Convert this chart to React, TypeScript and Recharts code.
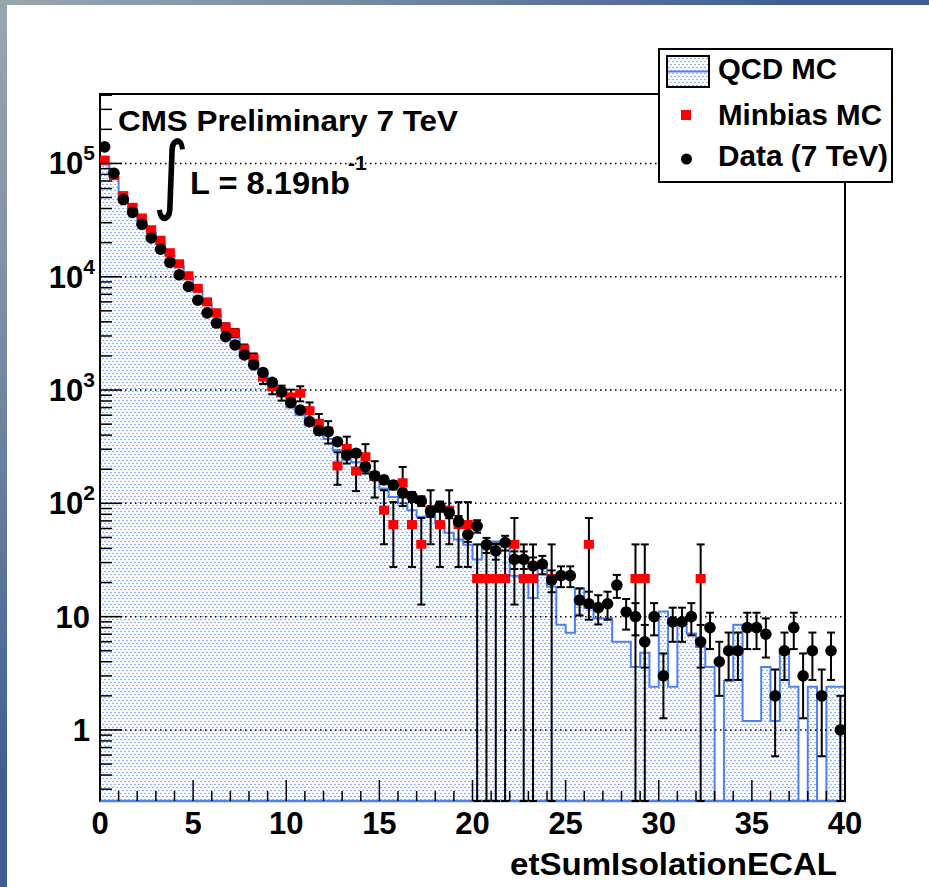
import React from 'react';
import { ComposedChart, Area, Scatter, ErrorBar, XAxis, YAxis, ReferenceLine, ReferenceArea } from 'recharts';

// ---------------- data (80 bins of width 0.5 from 0 to 40) ----------------
const binLow = 0;
const binWidth = 0.5;

const qcdMC: number[] = [
  98000, 76000, 50000, 39000, 31000, 24500, 19500, 15500, 12300, 9700,
  7500, 5800, 4600, 3500, 2900, 2200, 1800, 1400, 1100, 880,
  700, 600, 490, 420, 370, 295, 240, 230, 190, 160,
  135, 114, 100, 87, 76, 78, 67, 55, 48, 43,
  32, 43, 46, 46, 23, 22, 14.6, 27, 18.4, 8.5,
  7.2, 17.8, 11.9, 9.7, 9.7, 6.0, 6.0, 3.6, 4.8, 2.4,
  11.1, 2.4, 8.5, 7.1, 5.4, 3.6, 0, 2.7, 8.5, 1.2,
  1.2, 3.6, 1.2, 5.1, 2.4, 0, 2.4, 0, 2.4, 2.4,
];

const minbiasMC: number[] = [
  107000, 78000, 52000, 41000, 33000, 26000, 21000, 16300, 13000, 10200,
  7900, 6000, 4800, 3600, 3200, 2300, 1900, 1300, 1070, 950,
  870, 937, 658, 509, 434, 214, 306, 193, 258, 174,
  87, 65, 152, 65, 43.5, 87, 65, 87, 65, 65,
  21.7, 21.7, 21.7, 21.7, 43.5, 21.7, 21.7, 0, 21.7, 0,
  0, 0, 43.5, 0, 0, 0, 0, 21.7, 21.7, 0,
  0, 0, 0, 0, 21.7, 0, 0, 0, 0, 0,
  0, 0, 0, 0, 0, 0, 0, 0, 0, 0,
];

const data7TeV: number[] = [
  140000, 82000, 48000, 37000, 29000, 22000, 17500, 13400, 10400, 8200,
  6200, 4800, 3900, 2960, 2500, 2040, 1670, 1430, 1170, 968,
  774, 667, 526, 438, 430, 350, 267, 277, 211, 175,
  161, 145, 124, 115, 105, 85, 94, 83, 69, 53,
  63, 43, 38, 45, 32, 32, 28, 29, 21, 23,
  23, 14, 13, 12, 13, 19, 11, 10, 6, 10,
  3, 9, 9, 10, 6, 8, 4, 5, 5, 8,
  8, 7, 2, 5, 8, 3, 5, 2, 5, 1,
];

const minbiasWeight = 21.7; // weight of one MC event (Poisson error scale)

const xMajorTicks = [0, 5, 10, 15, 20, 25, 30, 35, 40];
const yMajorTicks = [1, 10, 100, 1000, 10000, 100000];
const yTickBase = ['1', '10', '10', '10', '10', '10'];
const yTickExp = ['', '', '2', '3', '4', '5'];

const xTitle = 'etSumIsolationECAL';
const legendLabels = ['QCD MC', 'Minbias MC', 'Data (7 TeV)'];
const cmsText = 'CMS Preliminary 7 TeV';
const lumiText = 'L = 8.19nb';
const lumiExp = '-1';

// ---------------- derived ----------------
const X_MIN = 0;
const X_MAX = 40;
const Y_MIN = 0.236;
const Y_MAX = 410000;
const EMPTY = 0.01;

const FONT = "'Liberation Sans', Arial, Helvetica, sans-serif";
const BLUE = '#4f80f2';

const xTicks: number[] = [];
for (let v = X_MIN; v <= X_MAX; v += 1) xTicks.push(v);

const yTicks: number[] = [];
for (let d = -1; d <= 5; d++) {
  for (let k = 1; k <= 9; k++) {
    const v = k * Math.pow(10, d);
    if (v >= Y_MIN && v <= Y_MAX) yTicks.push(k === 1 ? Math.pow(10, d) : v);
  }
}

const histPoints: { x: number; qcd: number }[] = [{ x: binLow, qcd: EMPTY }];
qcdMC.forEach((v, i) => {
  const lo = binLow + i * binWidth;
  const y = v > 0 ? v : EMPTY;
  histPoints.push({ x: lo, qcd: y }, { x: lo + binWidth, qcd: y });
});
histPoints.push({ x: binLow + qcdMC.length * binWidth, qcd: EMPTY });

const makePoints = (vals: number[], errOf: (v: number) => number) =>
  vals
    .map((v, i) => ({ v, i }))
    .filter((p) => p.v > 0)
    .map(({ v, i }) => {
      const e = errOf(v);
      const low = Math.max(v - e, Y_MIN);
      return { x: binLow + (i + 0.5) * binWidth, y: v, err: [v - low, e] };
    });

const minbiasPoints = makePoints(minbiasMC, (v) => Math.sqrt(v * minbiasWeight));
const dataPoints = makePoints(data7TeV, (v) => Math.sqrt(v));

// ---------------- renderers ----------------
const RedSquare = (p: any) => (
  <rect x={p.cx - 5} y={p.cy - 4.5} width={10} height={9} fill="#ff0000" />
);
const BlackDot = (p: any) => <circle cx={p.cx} cy={p.cy} r={5.8} fill="#000" />;

const XTick = (props: any) => {
  const { x, y, payload } = props;
  const v = payload.value;
  const major = xMajorTicks.includes(v);
  return (
    <g>
      <line x1={x} x2={x} y1={y} y2={y - (major ? 21 : 10)} stroke="#000" strokeWidth={1.5} />
      {major && (
        <text x={x} y={y + 33} textAnchor="middle" fontFamily={FONT} fontWeight="bold" fontSize={31} fill="#000">
          {String(v)}
        </text>
      )}
    </g>
  );
};

const YTick = (props: any) => {
  const { x, y, payload } = props;
  const v = payload.value;
  const idx = yMajorTicks.indexOf(v);
  const major = idx >= 0;
  const hasExp = major && yTickExp[idx] !== '';
  return (
    <g>
      <line x1={x} x2={x + (major ? 22 : 12)} y1={y} y2={y} stroke="#000" strokeWidth={1.5} />
      {major && (
        <text
          x={hasExp ? x - 5 : x - 10}
          y={y + 11}
          textAnchor="end"
          fontFamily={FONT}
          fontWeight="bold"
          fontSize={31}
          fill="#000"
        >
          <tspan>{yTickBase[idx]}</tspan>
          {hasExp && (
            <tspan fontSize={21} dy={-14}>
              {yTickExp[idx]}
            </tspan>
          )}
        </text>
      )}
    </g>
  );
};

export default function App() {
  return (
    <div
      style={{
        position: 'absolute',
        left: 0,
        top: 0,
        width: 929,
        height: 887,
        overflow: 'hidden',
        background: 'radial-gradient(circle at 0 0, #9aa6ae 0px, #7d8fa6 300px, #3f5d92 800px)',
      }}
    >
      <svg width={0} height={0} style={{ position: 'absolute' }}>
        <defs>
          <pattern id="qcdDots" x={0} y={0} width={4} height={6} patternUnits="userSpaceOnUse">
            <rect width={4} height={6} fill="#ffffff" />
            <circle cx={1} cy={1.5} r={0.8} fill="#6a97f4" />
            <circle cx={3} cy={4.5} r={0.8} fill="#6a97f4" />
          </pattern>
        </defs>
      </svg>
      <div style={{ position: 'absolute', left: 7, top: 5, right: 0, bottom: 0, background: '#ffffff' }} />
      <div style={{ position: 'absolute', left: 0, top: 0 }}>
        <ComposedChart width={929} height={887} margin={{ top: 94, right: 84, bottom: 46, left: 40 }}>
          <XAxis
            type="number"
            dataKey="x"
            domain={[X_MIN, X_MAX]}
            allowDataOverflow
            ticks={xTicks}
            interval={0}
            tick={XTick}
            tickLine={false}
            axisLine={false}
            tickSize={0}
            tickMargin={0}
            height={40}
          />
          <YAxis
            type="number"
            scale="log"
            domain={[Y_MIN, Y_MAX]}
            allowDataOverflow
            ticks={yTicks}
            interval={0}
            tick={YTick}
            tickLine={false}
            axisLine={false}
            tickSize={0}
            tickMargin={0}
            width={60}
          />
          <Area
            data={histPoints}
            dataKey="qcd"
            type="linear"
            stroke={BLUE}
            strokeWidth={2}
            fill="url(#qcdDots)"
            fillOpacity={1}
            baseValue={Y_MIN}
            dot={false}
            activeDot={false}
            isAnimationActive={false}
          />
          {yMajorTicks.map((v) => (
            <ReferenceLine key={v} y={v} stroke="#000" strokeWidth={1.5} strokeDasharray="1.5 3.5" />
          ))}
          <ReferenceLine y={Y_MIN} stroke={BLUE} strokeWidth={2.5} />
          <ReferenceArea x1={X_MIN} x2={X_MAX} y1={Y_MIN} y2={Y_MAX} fill="none" stroke="#000" strokeWidth={2} />
          <Scatter data={minbiasPoints} dataKey="y" shape={RedSquare} isAnimationActive={false}>
            <ErrorBar dataKey="err" direction="y" width={4} stroke="#000" strokeWidth={2} />
          </Scatter>
          <Scatter data={dataPoints} dataKey="y" shape={BlackDot} isAnimationActive={false}>
            <ErrorBar dataKey="err" direction="y" width={4} stroke="#000" strokeWidth={2} />
          </Scatter>
        </ComposedChart>
      </div>
      <svg
        width={929}
        height={887}
        style={{ position: 'absolute', left: 0, top: 0, pointerEvents: 'none' }}
        fontFamily={FONT}
        fontWeight="bold"
      >
        <text x={118} y={131} fontSize={30} textLength={340} lengthAdjust="spacingAndGlyphs">
          {cmsText}
        </text>
        <text
          x={0}
          y={0}
          fontSize={86}
          fontWeight="normal"
          fontFamily="'DejaVu Sans', sans-serif"
          transform="translate(153,203) scale(0.8,1)"
        >
          ∫
        </text>
        <text x={190} y={194} fontSize={31} textLength={160} lengthAdjust="spacingAndGlyphs">
          {lumiText}
        </text>
        <text x={348} y={170} fontSize={21}>
          {lumiExp}
        </text>
        <text x={510} y={875} fontSize={32} textLength={327} lengthAdjust="spacingAndGlyphs">
          {xTitle}
        </text>
        {/* legend */}
        <rect x={659} y={49} width={233} height={133} fill="#fff" stroke="#000" strokeWidth={2} />
        <rect x={667} y={56} width={42} height={31} fill="url(#qcdDots)" stroke="#000" strokeWidth={2} />
        <line x1={668} x2={708} y1={71.5} y2={71.5} stroke={BLUE} strokeWidth={2} />
        <text x={718} y={79} fontSize={29} textLength={119} lengthAdjust="spacingAndGlyphs">
          {legendLabels[0]}
        </text>
        <rect x={681} y={110} width={10} height={10} fill="#ff0000" />
        <text x={718} y={125} fontSize={29} textLength={164} lengthAdjust="spacingAndGlyphs">
          {legendLabels[1]}
        </text>
        <circle cx={686.5} cy={159} r={5.5} fill="#000" />
        <text x={718} y={166} fontSize={29} textLength={170} lengthAdjust="spacingAndGlyphs">
          {legendLabels[2]}
        </text>
      </svg>
    </div>
  );
}
